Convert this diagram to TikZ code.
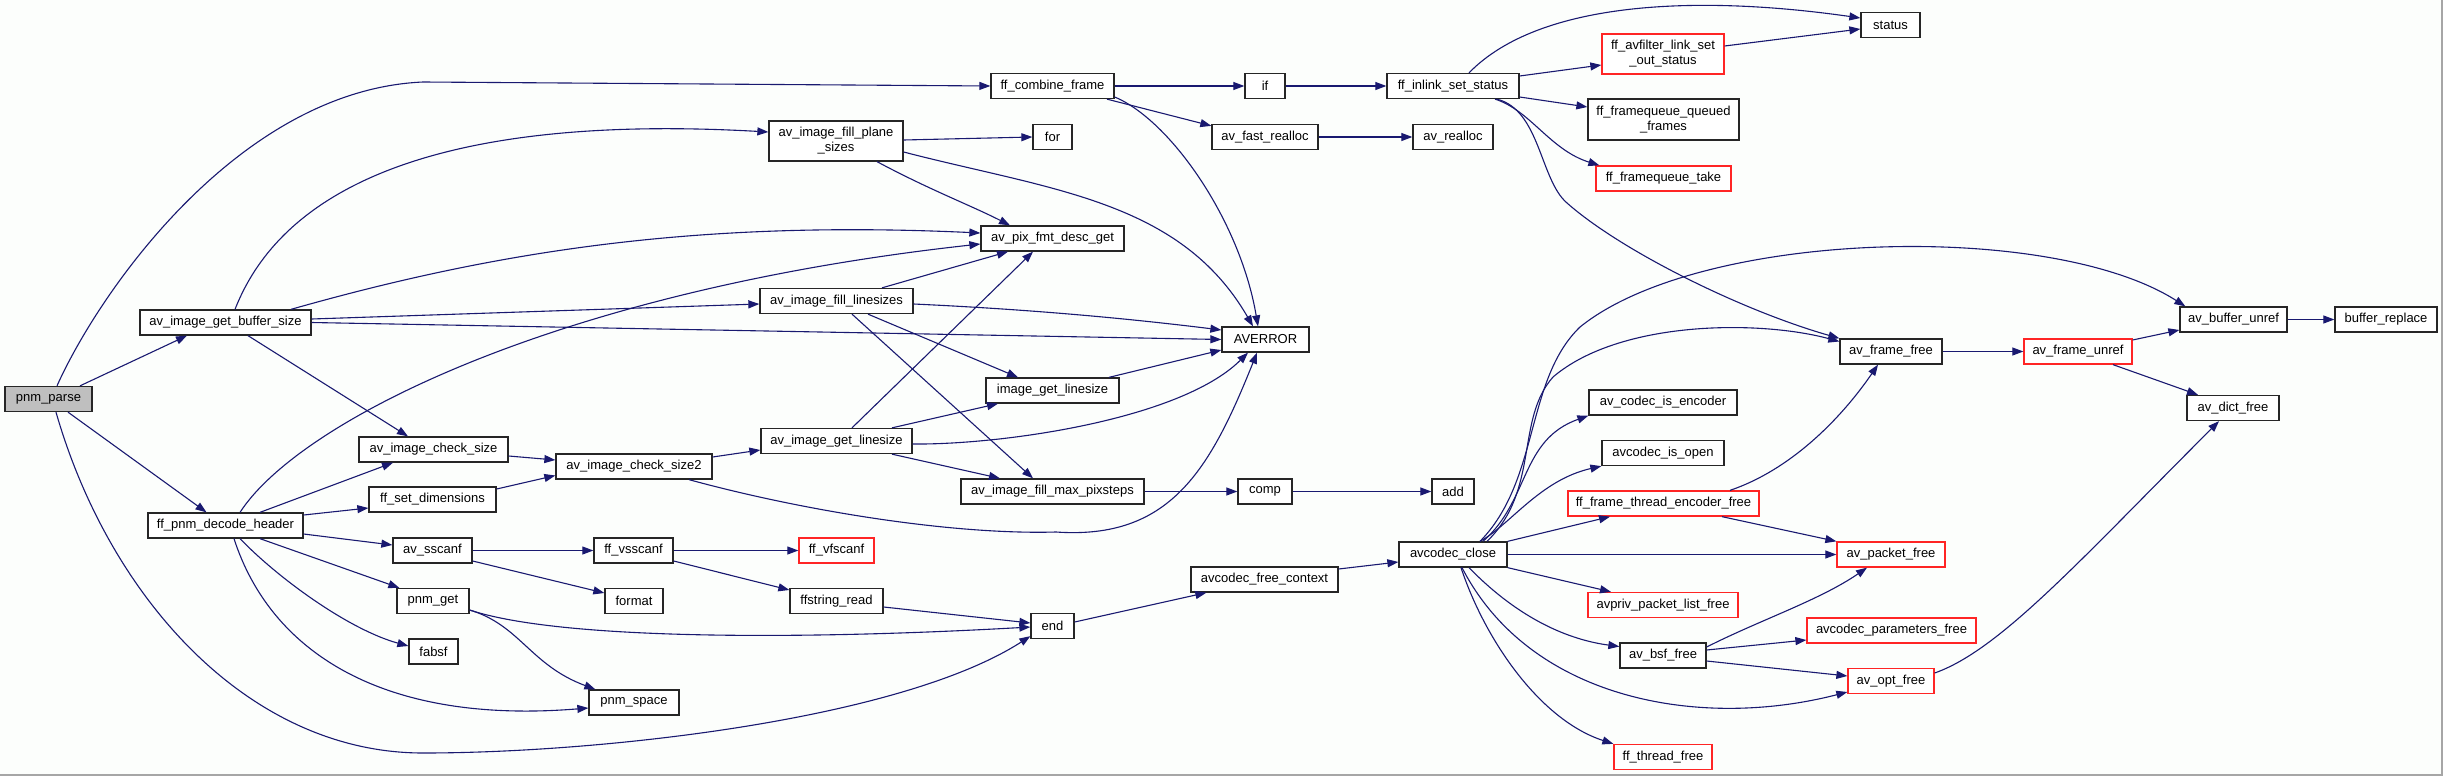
\documentclass[tikz,border=0pt]{standalone}
\usepackage{fontspec}
\setmainfont{Liberation Sans}
\usetikzlibrary{arrows.meta,calc}
\definecolor{edgec}{HTML}{191970}
\definecolor{bgc}{HTML}{FCFEFC}
\definecolor{redc}{HTML}{FF2525}
\definecolor{nodefill}{HTML}{BFBFBF}
\begin{document}
\begin{tikzpicture}[x=1pt,y=-1pt,
  nb/.style={draw=black!85, line width=1.3pt, fill=white, minimum height=25pt,
    inner sep=0pt, font=\fontsize{13}{15}\selectfont, align=center},
  rb/.style={nb, draw=redc},
  e/.style={draw=edgec, line width=1.1pt, -{Triangle[length=11pt,width=8pt]}}]
\useasboundingbox (0,0) rectangle (2443,776);
\fill[bgc] (0,0) rectangle (2443,776);
\draw[black!35, line width=1.5pt] (2442.2,0) -- (2442.2,775.2) -- (0,775.2);

% nodes
\node[nb, fill=nodefill, minimum width=87pt] (pp) at (48.5,399) {pnm\_parse};
\node[nb, minimum width=171pt] (bs) at (225.5,322.5) {av\_image\_get\_buffer\_size};
\node[nb, minimum width=155pt] (dh) at (225.5,525.5) {ff\_pnm\_decode\_header};
\node[nb, minimum width=149pt] (cs) at (433.5,449.5) {av\_image\_check\_size};
\node[nb, minimum width=156pt] (cs2) at (634,466.5) {av\_image\_check\_size2};
\node[nb, minimum width=127pt] (sd) at (432.5,499.5) {ff\_set\_dimensions};
\node[nb, minimum width=79pt] (ss) at (432.5,550.5) {av\_sscanf};
\node[nb, minimum width=79pt] (vs) at (633.5,550.5) {ff\_vsscanf};
\node[nb, minimum width=58pt] (fmt) at (634,601) {format};
\node[nb, minimum width=72pt] (pg) at (433,601) {pnm\_get};
\node[nb, minimum width=49pt] (fa) at (433.5,651.5) {fabsf};
\node[nb, minimum width=90pt] (psp) at (634,702.5) {pnm\_space};
\node[rb, minimum width=75pt] (vf) at (836.5,550.5) {ff\_vfscanf};
\node[nb, minimum width=93pt] (fr) at (836.5,601) {ffstring\_read};
\node[nb, minimum width=43pt] (nend) at (1052.5,626) {end};
\node[nb, minimum width=147pt] (afc) at (1264.5,579.5) {avcodec\_free\_context};
\node[nb, minimum width=108pt] (acl) at (1453,554.5) {avcodec\_close};
\node[nb, minimum width=151pt] (gl) at (836.5,441) {av\_image\_get\_linesize};
\node[nb, minimum width=133pt] (igl) at (1052.5,390.5) {image\_get\_linesize};
\node[nb, minimum width=183pt] (mp) at (1052.5,491.5) {av\_image\_fill\_max\_pixsteps};
\node[nb, minimum width=54pt] (ncomp) at (1265,491.5) {comp};
\node[nb, minimum width=42pt] (nadd) at (1453,491.5) {add};
\node[nb, minimum width=123pt] (cf) at (1052.5,86) {ff\_combine\_frame};
\node[nb, minimum width=40pt] (nif) at (1265,86) {if};
\node[nb, minimum width=132pt] (ils) at (1453,86) {ff\_inlink\_set\_status};
\node[nb, minimum width=134pt, minimum height=40pt] (ps) at (836,141) {av\_image\_fill\_plane\\\_sizes};
\node[nb, minimum width=39pt] (nfor) at (1052.5,137) {for};
\node[nb, minimum width=106pt] (fra) at (1265,137) {av\_fast\_realloc};
\node[nb, minimum width=80pt] (rea) at (1453,137) {av\_realloc};
\node[nb, minimum width=143pt] (pfd) at (1052.5,238.5) {av\_pix\_fmt\_desc\_get};
\node[nb, minimum width=153pt] (fl) at (836.5,301) {av\_image\_fill\_linesizes};
\node[nb, minimum width=87pt] (ave) at (1265.5,339.5) {AVERROR};
\node[nb, minimum width=59pt] (st) at (1890.5,25) {status};
\node[rb, minimum width=122pt, minimum height=40pt] (lso) at (1663,54) {ff\_avfilter\_link\_set\\\_out\_status};
\node[nb, minimum width=151pt, minimum height=41pt] (fqq) at (1663.5,119.5) {ff\_framequeue\_queued\\\_frames};
\node[rb, minimum width=135pt] (fqt) at (1663.5,178.5) {ff\_framequeue\_take};
\node[nb, minimum width=102pt] (ff) at (1891,351.5) {av\_frame\_free};
\node[rb, minimum width=108pt] (fu) at (2078,351.5) {av\_frame\_unref};
\node[nb, minimum width=107pt] (bu) at (2233.5,319.5) {av\_buffer\_unref};
\node[nb, minimum width=102pt] (br) at (2386,319.5) {buffer\_replace};
\node[nb, minimum width=92pt] (df) at (2233,408) {av\_dict\_free};
\node[nb, minimum width=148pt] (ie) at (1663,402.5) {av\_codec\_is\_encoder};
\node[nb, minimum width=122pt] (io) at (1663,453) {avcodec\_is\_open};
\node[rb, minimum width=191pt] (te) at (1663.5,503.5) {ff\_frame\_thread\_encoder\_free};
\node[rb, minimum width=108pt] (pf) at (1891,554.5) {av\_packet\_free};
\node[rb, minimum width=150pt] (plf) at (1663,605) {avpriv\_packet\_list\_free};
\node[rb, minimum width=169pt] (cpf) at (1891.5,630.5) {avcodec\_parameters\_free};
\node[nb, minimum width=86pt] (bsf) at (1663,655.5) {av\_bsf\_free};
\node[rb, minimum width=86pt] (of) at (1891,681) {av\_opt\_free};
\node[rb, minimum width=98pt] (tf) at (1663,757) {ff\_thread\_free};

% edges from pnm_parse
\draw[e] ($(pp.north)+(8.5,0)$) .. controls (100,290) and (240,90) .. (423,82) -- (cf.west);
\draw[e] ($(pp.north)+(31.5,0)$) -- ($(bs.south)+(-38.5,0)$);
\draw[e] ($(pp.south)+(19.5,0)$) -- ($(dh.north)+(-19,0)$);
\draw[e] ($(pp.south)+(7.5,0)$) .. controls (110,600) and (250,753) .. (423,753) .. controls (600,753) and (900,720) .. ($(nend.south west)+(0,-3)$);

% av_image_get_buffer_size
\draw[e] ($(bs.north)+(9.5,0)$) .. controls (270,220) and (380,110) .. ($(ps.west)+(0,-9)$);
\draw[e] ($(bs.north)+(65.5,0)$) .. controls (500,250) and (700,220) .. ($(pfd.west)+(0,-5.5)$);
\draw[e] ($(bs.east)+(0,-3.5)$) -- ($(fl.west)+(0,3)$);
\draw[e] (bs.east) -- (ave.west);
\draw[e] ($(bs.south)+(22.5,0)$) -- ($(cs.north)+(-25.5,0)$);

% ff_pnm_decode_header
\draw[e] ($(dh.north)+(14.5,0)$) .. controls (300,420) and (560,290) .. ($(pfd.west)+(0,5.5)$);
\draw[e] ($(dh.north)+(34.5,0)$) -- ($(cs.south)+(-40.5,0)$);
\draw[e] ($(dh.east)+(0,-10.5)$) -- ($(sd.west)+(0,8.5)$);
\draw[e] ($(dh.east)+(0,8.5)$) -- ($(ss.west)+(0,-5.5)$);
\draw[e] ($(dh.south)+(34.5,0)$) -- ($(pg.north west)+(3,0)$);
\draw[e] ($(dh.south)+(14.5,0)$) .. controls (280,580) and (350,630) .. ($(fa.west)+(0,-5.5)$);
\draw[e] ($(dh.south)+(8.5,0)$) .. controls (270,650) and (380,725) .. ($(psp.west)+(0,5.5)$);

% check size
\draw[e] ($(cs.east)+(0,6.5)$) -- ($(cs2.west)+(0,-6.5)$);
\draw[e] ($(sd.east)+(0,-10.5)$) -- ($(cs2.west)+(0,9)$);
\draw[e] ($(cs2.east)+(0,-9.5)$) -- ($(gl.west)+(0,9)$);
\draw[e] ($(cs2.south)+(55,0)$) .. controls (800,510) and (950,535) .. (1056,532) .. controls (1170,540) and (1210,470) .. ($(ave.south)+(-8.5,0)$);

% scanf family
\draw[e] (ss) -- (vs);
\draw[e] ($(ss.east)+(0,10.5)$) -- ($(fmt.west)+(0,-8)$);
\draw[e] (vs.east) -- (vf.west);
\draw[e] ($(vs.east)+(0,10.5)$) -- ($(fr.west)+(0,-11)$);
\draw[e] ($(fr.east)+(0,6)$) -- ($(nend.west)+(0,-3)$);
\draw[e] ($(pg.east)+(0,9)$) .. controls (560,640) and (800,640) .. ($(nend.west)+(0,1)$);
\draw[e] ($(pg.east)+(0,9)$) .. controls (520,625) and (530,665) .. ($(psp.north west)+(7,0)$);
\draw[e] ($(nend.east)+(0,-4)$) -- ($(afc.south west)+(16,0)$);
\draw[e] ($(afc.east)+(0,-10.5)$) -- ($(acl.west)+(0,7.5)$);

% linesize
\draw[e] ($(gl.north)+(15.5,0)$) -- ($(pfd.south)+(-19.5,0)$);
\draw[e] ($(gl.north)+(55.5,0)$) -- ($(igl.south)+(-54.5,0)$);
\draw[e] ($(gl.east)+(0,3)$) .. controls (1000,445) and (1180,420) .. ($(ave.south)+(-17.5,0)$);
\draw[e] ($(gl.south)+(55.5,0)$) -- ($(mp.north)+(-52.5,0)$);
\draw[e] ($(igl.north)+(56.5,0)$) -- ($(ave.west)+(0,10.5)$);
\draw[e] ($(fl.north)+(45.5,0)$) -- ($(pfd.south)+(-44.5,0)$);
\draw[e] ($(fl.east)+(0,3)$) .. controls (1000,308) and (1100,315) .. ($(ave.west)+(0,-9.5)$);
\draw[e] ($(fl.south)+(31.5,0)$) -- ($(igl.north)+(-34.5,0)$);
\draw[e] ($(fl.south)+(15.5,0)$) -- ($(mp.north)+(-19.5,0)$);
\draw[e] (mp) -- (ncomp);
\draw[e] (ncomp) -- (nadd);

% plane sizes
\draw[e] ($(ps.east)+(0,-1)$) -- (nfor.west);
\draw[e] ($(ps.south)+(41,0)$) .. controls (930,190) and (970,205) .. ($(pfd.north)+(-42.5,0)$);
\draw[e] ($(ps.east)+(0,11)$) .. controls (1050,190) and (1180,200) .. ($(ave.north)+(-12.5,0)$);

% combine frame
\draw[e] (cf) -- (nif);
\draw[e] ($(cf.south)+(54.5,0)$) -- ($(fra.north west)+(0,2)$);
\draw[e] ($(cf.east)+(0,11)$) .. controls (1170,120) and (1240,220) .. ($(ave.north)+(-7.5,0)$);
\draw[e] (nif) -- (ils);
\draw[e] (fra) -- (rea);

% inlink set status
\draw[e] ($(ils.north)+(16,0)$) .. controls (1540,0) and (1700,-5) .. ($(st.west)+(0,-7)$);
\draw[e] ($(ils.east)+(0,-10)$) -- ($(lso.west)+(0,11)$);
\draw[e] ($(ils.east)+(0,11)$) -- ($(fqq.west)+(0,-12.5)$);
\draw[e] ($(ils.south)+(42,0)$) .. controls (1530,110) and (1550,150) .. ($(fqt.north west)+(4,0)$);
\draw[e] ($(ils.south)+(44,0)$) .. controls (1540,110) and (1540,180) .. (1567,203) .. controls (1620,250) and (1740,310) .. (ff.north west);
\draw[e] ($(lso.east)+(0,-8)$) -- ($(st.west)+(0,4)$);

% avcodec_close
\draw[e] ($(acl.north)+(27,0)$) .. controls (1540,480) and (1525,380) .. (1580,327) .. controls (1700,230) and (2050,220) .. ($(bu.north west)+(6,0)$);
\draw[e] ($(acl.north)+(34,0)$) .. controls (1540,490) and (1515,420) .. (1553,377) .. controls (1620,320) and (1760,320) .. ($(ff.west)+(0,-10)$);
\draw[e] ($(acl.north)+(30,0)$) .. controls (1530,500) and (1520,440) .. (ie.south west);
\draw[e] ($(acl.north)+(27,0)$) .. controls (1510,525) and (1540,480) .. (io.south west);
\draw[e] (acl.north east) -- ($(te.south)+(-53.5,0)$);
\draw[e] (acl) -- (pf);
\draw[e] (acl.south east) -- ($(plf.north)+(-52,0)$);
\draw[e] ($(acl.south)+(16,0)$) .. controls (1520,620) and (1570,640) .. ($(bsf.west)+(0,-9)$);
\draw[e] ($(acl.south)+(9,0)$) .. controls (1530,700) and (1700,730) .. ($(of.west)+(0,11)$);
\draw[e] ($(acl.south)+(8,0)$) .. controls (1485,640) and (1540,720) .. (tf.north west);

% right part
\draw[e] ($(te.north)+(66.5,0)$) .. controls (1790,470) and (1840,420) .. ($(ff.south)+(-13,0)$);
\draw[e] ($(te.south)+(58.5,0)$) -- (pf.north west);
\draw[e] ($(bsf.east)+(0,-8.5)$) .. controls (1760,620) and (1820,600) .. ($(pf.south)+(-24,0)$);
\draw[e] ($(bsf.east)+(0,-5.5)$) -- ($(cpf.west)+(0,9.5)$);
\draw[e] ($(bsf.east)+(0,5.5)$) -- ($(of.west)+(0,-5)$);
\draw[e] ($(of.east)+(0,-8)$) .. controls (2000,650) and (2080,560) .. ($(df.south)+(-14,0)$);
\draw[e] (ff) -- (fu);
\draw[e] ($(fu.east)+(0,-11.5)$) -- ($(bu.west)+(0,10.5)$);
\draw[e] ($(fu.south)+(35,0)$) -- ($(df.north)+(-35,0)$);
\draw[e] (bu) -- (br);
\end{tikzpicture}
\end{document}
